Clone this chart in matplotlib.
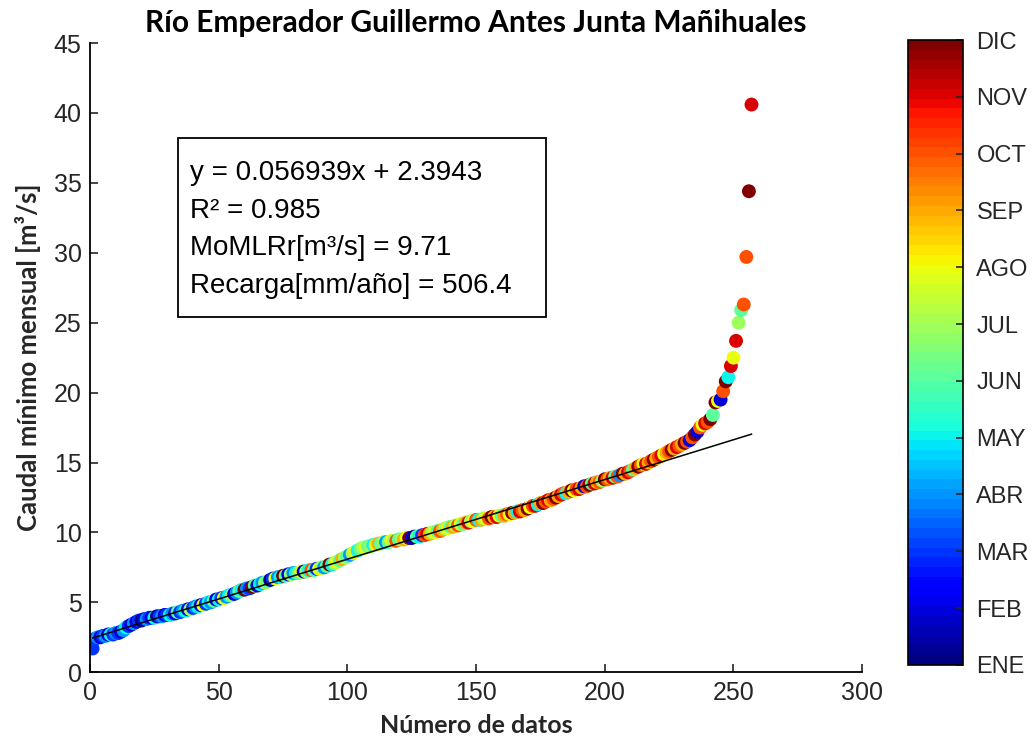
import matplotlib
matplotlib.use("Agg")
import matplotlib.pyplot as plt
from matplotlib.patches import Rectangle
import numpy as np

# sorted minimum monthly flows [m3/s]
caudal = [
    1.7, 2.4, 2.5, 2.5, 2.6, 2.6, 2.7, 2.7, 2.7, 2.8, 2.8, 2.9, 3.0, 3.2, 3.3, 3.4, 3.5, 3.6, 3.7, 3.7,
    3.8, 3.8, 3.9, 3.9, 3.9, 4.0, 4.0, 4.0, 4.1, 4.1, 4.1, 4.2, 4.2, 4.3, 4.3, 4.4, 4.4, 4.5, 4.5, 4.6,
    4.7, 4.7, 4.8, 4.8, 4.9, 5.0, 5.0, 5.1, 5.2, 5.2, 5.3, 5.3, 5.4, 5.5, 5.5, 5.6, 5.7, 5.8, 5.9, 5.9,
    6.0, 6.0, 6.1, 6.2, 6.2, 6.3, 6.4, 6.4, 6.5, 6.6, 6.7, 6.7, 6.8, 6.8, 6.9, 6.9, 7.0, 7.0, 7.1, 7.1,
    7.1, 7.2, 7.2, 7.2, 7.3, 7.3, 7.3, 7.4, 7.4, 7.5, 7.5, 7.6, 7.7, 7.7, 7.8, 7.9, 8.0, 8.1, 8.2, 8.3,
    8.4, 8.5, 8.6, 8.7, 8.8, 8.9, 8.9, 9.0, 9.0, 9.1, 9.1, 9.2, 9.2, 9.3, 9.3, 9.3, 9.4, 9.4, 9.4, 9.5,
    9.5, 9.5, 9.6, 9.6, 9.6, 9.7, 9.7, 9.7, 9.8, 9.8, 9.9, 9.9, 10.0, 10.0, 10.1, 10.1, 10.2, 10.3, 10.3, 10.4,
    10.4, 10.5, 10.5, 10.6, 10.6, 10.7, 10.7, 10.8, 10.8, 10.9, 10.9, 10.9, 11.0, 11.0, 11.0, 11.1, 11.1, 11.1, 11.2, 11.2,
    11.2, 11.3, 11.3, 11.4, 11.4, 11.5, 11.5, 11.6, 11.6, 11.7, 11.8, 11.9, 11.9, 12.0, 12.1, 12.1, 12.2, 12.3, 12.3, 12.4,
    12.5, 12.6, 12.7, 12.8, 12.8, 12.9, 13.0, 13.0, 13.1, 13.1, 13.2, 13.3, 13.3, 13.4, 13.5, 13.5, 13.6, 13.6, 13.7, 13.8,
    13.8, 13.9, 13.9, 14.0, 14.0, 14.1, 14.2, 14.2, 14.3, 14.4, 14.5, 14.6, 14.7, 14.8, 14.9, 14.9, 15.0, 15.1, 15.2, 15.3,
    15.4, 15.5, 15.6, 15.7, 15.8, 15.9, 16.0, 16.1, 16.2, 16.3, 16.4, 16.5, 16.6, 16.8, 17.0, 17.2, 17.5, 17.7, 17.8, 17.9,
    18.1, 18.4, 19.3, 19.4, 19.5, 20.1, 20.8, 21.1, 21.9, 22.5, 23.7, 25.0, 25.9, 26.3, 29.7, 34.4, 40.6,
]

# month of each value (1 = ENE ... 12 = DIC)
mes = [
    3, 3, 4, 2, 3, 4, 2, 5, 3, 4, 3, 2, 4, 5, 3, 2, 4, 2, 3, 1,
    2, 4, 3, 2, 5, 1, 3, 4, 2, 3, 5, 4, 2, 6, 3, 4, 5, 2, 7, 3,
    4, 5, 2, 8, 3, 5, 4, 6, 2, 5, 3, 8, 4, 5, 7, 2, 4, 6, 5, 12,
    4, 3, 12, 6, 2, 5, 4, 7, 6, 1, 3, 8, 4, 5, 12, 6, 2, 7, 4, 5,
    6, 8, 2, 7, 5, 10, 6, 3, 8, 7, 4, 6, 12, 5, 7, 8, 6, 9, 7, 6,
    4, 7, 8, 5, 6, 7, 8, 6, 7, 5, 8, 9, 6, 7, 4, 6, 8, 7, 10, 6,
    7, 9, 8, 12, 2, 1, 6, 5, 3, 10, 11, 9, 7, 8, 6, 10, 9, 7, 8, 6,
    9, 7, 10, 8, 6, 9, 11, 7, 8, 10, 5, 9, 7, 8, 10, 12, 9, 11, 8, 6,
    9, 10, 8, 12, 9, 5, 11, 10, 9, 12, 8, 10, 11, 5, 9, 12, 10, 11, 9, 10,
    12, 9, 11, 10, 5, 9, 12, 8, 10, 11, 9, 2, 10, 12, 6, 11, 9, 10, 7, 12,
    10, 9, 11, 6, 10, 4, 12, 9, 11, 10, 6, 9, 12, 10, 8, 11, 9, 10, 12, 9,
    10, 11, 8, 9, 10, 12, 9, 11, 10, 9, 12, 10, 2, 10, 12, 2, 10, 8, 11, 10,
    12, 6, 12, 8, 2, 10, 12, 5, 11, 8, 11, 7, 6, 10, 10, 12, 11,
]

meses = ["ENE", "FEB", "MAR", "ABR", "MAY", "JUN", "JUL", "AGO", "SEP", "OCT", "NOV", "DIC"]

# linear fit shown on the chart
pendiente = 0.056939
intercepto = 2.3943

n = np.arange(1, len(caudal) + 1)

plt.rcParams["font.family"] = ["Liberation Sans", "DejaVu Sans"]

fig = plt.figure(figsize=(10.35, 7.42), dpi=100)
ax = fig.add_axes([0.087, 0.094, 0.746, 0.848])
cax = fig.add_axes([0.877, 0.104, 0.053, 0.842])

cmap = plt.get_cmap("jet", 64)
sc = ax.scatter(n, caudal, c=mes, cmap=cmap, vmin=1, vmax=12, s=100, linewidths=0, zorder=2)
ax.plot(n, pendiente * n + intercepto, color="black", lw=1.1, zorder=3)

ax.set_xlim(0, 300)
ax.set_ylim(0, 45)
ax.set_xticks(np.arange(0, 301, 50))
ax.set_yticks(np.arange(0, 46, 5))
ax.spines["top"].set_visible(False)
ax.spines["right"].set_visible(False)
for s in ["left", "bottom"]:
    ax.spines[s].set_linewidth(1.3)
ax.tick_params(direction="in", length=6, width=1.2, labelsize=18, colors="#262626", pad=6)

titlefont = dict(family=["Lato", "DejaVu Sans"], weight="bold")
ax.set_title("Río Emperador Guillermo Antes Junta Mañihuales", fontsize=21.5, pad=8, **titlefont)
ax.set_xlabel("Número de datos", fontsize=18, labelpad=7, color="#262626", **titlefont)
ax.set_ylabel("Caudal mínimo mensual [m³/s]", fontsize=18.5, labelpad=9, color="#262626", **titlefont)

# annotation box (axes fraction)
ax.add_patch(Rectangle((0.114, 0.564), 0.477, 0.285, transform=ax.transAxes,
                       fc="white", ec="black", lw=1.3, zorder=4))
texto = ("y = 0.056939x + 2.3943\n"
         "R² = 0.985\n"
         "MoMLRr[m³/s] = 9.71\n"
         "Recarga[mm/año] = 506.4")
ax.text(0.129, 0.814, texto, transform=ax.transAxes, fontsize=20, va="top", ha="left",
        linespacing=1.58, zorder=5)

cb = fig.colorbar(sc, cax=cax)
cb.set_ticks(np.arange(1, 13))
cb.set_ticklabels(meses)
cb.outline.set_linewidth(1.2)
cax.tick_params(direction="in", length=5, width=1.2, labelsize=17, colors="#262626", pad=10)

fig.savefig("out.png", dpi=100)
